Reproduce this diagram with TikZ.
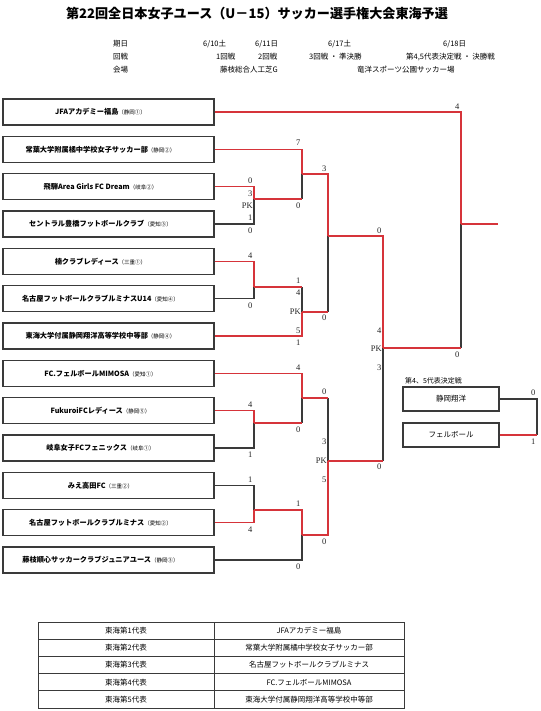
\documentclass[tikz,border=0pt]{standalone}
\usepackage{fontspec}
\setmainfont{Liberation Serif}
\newfontfamily\jp{Noto Sans CJK JP}
\definecolor{win}{RGB}{214,52,58}
\definecolor{lose}{RGB}{58,58,58}
\newcommand\teampref[1]{{\mdseries\fontsize{5.5}{6}\selectfont （#1）}\hspace*{16pt}}
\tikzset{
 team/.style={draw=lose, line width=1.3pt, minimum width=211pt, minimum height=26pt, inner sep=0pt, font=\jp\bfseries\fontsize{7.2}{8}\selectfont},
 pbox/.style={draw=lose, line width=1.2pt, minimum width=96pt, minimum height=24pt, inner sep=0pt, font=\jp\fontsize{7.5}{8}\selectfont},
 sc/.style={anchor=east, inner sep=0pt, font=\fontsize{8.5}{9}\selectfont, text=black!85},
 wl/.style={draw=win, line width=1.2pt},
 ll/.style={draw=lose, line width=1.2pt},
 hdr/.style={anchor=west, inner sep=0pt, font=\jp\fontsize{7.5}{9}\selectfont},
 cella/.style={draw=lose, line width=0.9pt, minimum width=176pt, minimum height=17.2pt, inner sep=0pt, font=\jp\fontsize{7.5}{8}\selectfont},
 cellb/.style={draw=lose, line width=0.9pt, minimum width=190pt, minimum height=17.2pt, inner sep=0pt, font=\jp\fontsize{7.5}{8}\selectfont},
}
\begin{document}
\begin{tikzpicture}[x=1pt,y=-1pt]
\fill[white] (0,0) rectangle (540,711);
\useasboundingbox (0,0) rectangle (540,711);

% title and header
\node[font=\jp\bfseries\fontsize{13.1}{15}\selectfont, inner sep=0pt] (title) at (257,14) {第22回全日本女子ユース（U－15）サッカー選手権大会東海予選};
\node[hdr] (h1) at (113,44) {期日};
\node[hdr] (h2) at (203,44) {6/10土};
\node[hdr] (h3) at (255,44) {6/11日};
\node[hdr] (h4) at (328,44) {6/17土};
\node[hdr] (h5) at (443,44) {6/18日};
\node[hdr] (h6) at (113,57) {回戦};
\node[hdr] (h7) at (216,57) {1回戦};
\node[hdr] (h8) at (258,57) {2回戦};
\node[hdr] (h9) at (309,57) {3回戦 ・ 準決勝};
\node[hdr] (h10) at (406,57) {第4,5代表決定戦 ・ 決勝戦};
\node[hdr] (h11) at (113,70) {会場};
\node[hdr] (h12) at (220,70) {藤枝総合人工芝G};
\node[hdr] (h13) at (357,70) {竜洋スポーツ公園サッカー場};

% teams
\node[team] (t1) at (108.5,112) {JFAアカデミー福島\teampref{静岡①}};
\node[team] (t2) at (108.5,149.3) {常葉大学附属橘中学校女子サッカー部\teampref{静岡②}};
\node[team] (t3) at (108.5,186.7) {飛騨Area Girls FC Dream\teampref{岐阜②}};
\node[team] (t4) at (108.5,224) {セントラル豊橋フットボールクラブ\teampref{愛知③}};
\node[team] (t5) at (108.5,261.3) {楠クラブレディース\teampref{三重①}};
\node[team] (t6) at (108.5,298.7) {名古屋フットボールクラブルミナスU14\teampref{愛知④}};
\node[team] (t7) at (108.5,336) {東海大学付属静岡翔洋高等学校中等部\teampref{静岡④}};
\node[team] (t8) at (108.5,373.3) {FC.フェルボールMIMOSA\teampref{愛知①}};
\node[team] (t9) at (108.5,410.7) {FukuroiFCレディース\teampref{静岡⑤}};
\node[team] (t10) at (108.5,448) {岐阜女子FCフェニックス\teampref{岐阜①}};
\node[team] (t11) at (108.5,485.3) {みえ高田FC\teampref{三重②}};
\node[team] (t12) at (108.5,522.7) {名古屋フットボールクラブルミナス\teampref{愛知②}};
\node[team] (t13) at (108.5,560) {藤枝順心サッカークラブジュニアユース\teampref{静岡③}};

% junctions
\coordinate (m1) at (254,199);
\coordinate (m2) at (254,287);
\coordinate (m3) at (254,423);
\coordinate (m4) at (254,510);
\coordinate (m5) at (302,174);
\coordinate (m6) at (302,312);
\coordinate (m7) at (302,398);
\coordinate (m8) at (302,535);
\coordinate (m9) at (328,236);
\coordinate (m10) at (328,461);
\coordinate (m11) at (383,348);
\coordinate (m12) at (461,224);
\coordinate (champ) at (498,224);

% losing lines
\draw[ll] (t4.east) -| (m1);
\draw[ll] (t6.east) -| (m2);
\draw[ll] (t10.east) -| (m3);
\draw[ll] (t11.east) -| (m4);
\draw[ll] (m1 -| m5) -- (m5);
\draw[ll] (m2 -| m6) -- (m6);
\draw[ll] (m3 -| m7) -- (m7);
\draw[ll] (t13.east) -| (m8);
\draw[ll] (m6 -| m9) -- (m9);
\draw[ll] (m7 -| m10) -- (m10);
\draw[ll] (m10 -| m11) -- (m11);
\draw[ll] (m11 -| m12) -- (m12);

% winning lines
\draw[wl] (t3.east) -| (m1);
\draw[wl] (t5.east) -| (m2);
\draw[wl] (t9.east) -| (m3);
\draw[wl] (t12.east) -| (m4);
\draw[wl] (t2.east) -| (m5);
\draw[wl] (m1) -- (m1 -| m5);
\draw[wl] (m2) -- (m2 -| m6);
\draw[wl] (t7.east) -| (m6);
\draw[wl] (t8.east) -| (m7);
\draw[wl] (m3) -- (m3 -| m7);
\draw[wl] (m4) -| (m8);
\draw[wl] (m5) -| (m9);
\draw[wl] (m6) -- (m6 -| m9);
\draw[wl] (m7) -- (m7 -| m10);
\draw[wl] (m8) -| (m10);
\draw[wl] (m9) -| (m11);
\draw[wl] (m10) -- (m10 -| m11);
\draw[wl] (m11) -- (m11 -| m12);
\draw[wl] (t1.east) -| (m12);
\draw[wl] (m12) -- (champ);

% scores round 1
\node[sc] (s1) at (252.5,181) {0};
\node[sc] (s2) at (252.5,194) {3};
\node[sc] (s3) at (253,206) {PK};
\node[sc] (s4) at (252.5,218) {1};
\node[sc] (s5) at (252.5,231) {0};
\node[sc] (s6) at (252.5,256) {4};
\node[sc] (s7) at (252.5,306) {0};
\node[sc] (s8) at (252.5,405) {4};
\node[sc] (s9) at (252.5,455) {1};
\node[sc] (s10) at (252.5,480) {1};
\node[sc] (s11) at (252.5,530) {4};
% round 2
\node[sc] (s12) at (300.5,143) {7};
\node[sc] (s13) at (300.5,206) {0};
\node[sc] (s14) at (300.5,281) {1};
\node[sc] (s15) at (300.5,293) {4};
\node[sc] (s16) at (301,312) {PK};
\node[sc] (s17) at (300.5,331) {5};
\node[sc] (s18) at (300.5,343) {1};
\node[sc] (s19) at (300.5,368) {4};
\node[sc] (s20) at (300.5,430) {0};
\node[sc] (s21) at (300.5,504) {1};
\node[sc] (s22) at (300.5,567) {0};
% round 3
\node[sc] (s23) at (326.5,169) {3};
\node[sc] (s24) at (326.5,318) {0};
\node[sc] (s25) at (326.5,392) {0};
\node[sc] (s26) at (326.5,442) {3};
\node[sc] (s27) at (327,461) {PK};
\node[sc] (s28) at (326.5,480) {5};
\node[sc] (s29) at (326.5,542) {0};
% semi
\node[sc] (s30) at (381.5,231) {0};
\node[sc] (s31) at (381.5,331) {4};
\node[sc] (s32) at (382,349) {PK};
\node[sc] (s33) at (381.5,368) {3};
\node[sc] (s34) at (381.5,467) {0};
% final
\node[sc] (s35) at (459.5,107) {4};
\node[sc] (s36) at (459.5,355) {0};

% 4th/5th place match
\node[anchor=west, inner sep=0pt, font=\jp\fontsize{7}{8}\selectfont] (plabel) at (405,381) {第4、5代表決定戦};
\node[pbox] (p1) at (451,399) {静岡翔洋};
\node[pbox] (p2) at (451,435) {フェルボール};
\coordinate (m13) at (537,417);
\draw[ll] (p1.east) -| (m13) -- (m13 |- p2.east);
\draw[wl] (p2.east) -- (p2.east -| m13);
\node[sc] (s37) at (535.5,393) {0};
\node[sc] (s38) at (535.5,442) {1};

% representatives table
\node[cella] (r1a) at (126,630.6) {東海第1代表};
\node[cellb] (r1b) at (309,630.6) {JFAアカデミー福島};
\node[cella] (r2a) at (126,647.8) {東海第2代表};
\node[cellb] (r2b) at (309,647.8) {常葉大学附属橘中学校女子サッカー部};
\node[cella] (r3a) at (126,665) {東海第3代表};
\node[cellb] (r3b) at (309,665) {名古屋フットボールクラブルミナス};
\node[cella] (r4a) at (126,682.2) {東海第4代表};
\node[cellb] (r4b) at (309,682.2) {FC.フェルボールMIMOSA};
\node[cella] (r5a) at (126,699.4) {東海第5代表};
\node[cellb] (r5b) at (309,699.4) {東海大学付属静岡翔洋高等学校中等部};
\end{tikzpicture}
\end{document}
